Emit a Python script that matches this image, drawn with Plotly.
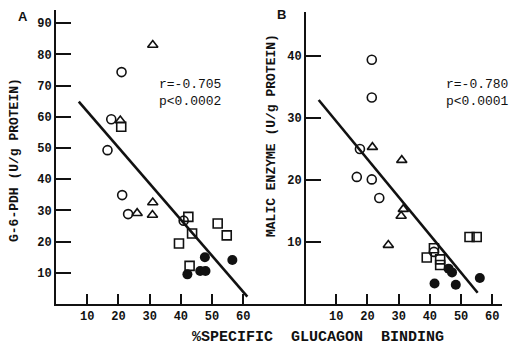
import plotly.graph_objects as go

# ---------------- data ----------------
# Panel A: G-6-PDH (U/g protein) vs % specific glucagon binding
a_circle_x = [21.0, 17.7, 16.5, 21.2, 23.1, 40.9]
a_circle_y = [74.3, 59.2, 49.3, 34.9, 28.8, 26.7]
a_tri_x = [31.0, 20.6, 26.0, 31.0, 30.9]
a_tri_y = [83.0, 58.8, 29.1, 32.5, 28.5]
a_sq_x = [20.9, 42.4, 43.6, 39.4, 51.8, 54.7, 42.8]
a_sq_y = [56.8, 27.9, 22.6, 19.4, 25.8, 22.0, 12.2]
a_fill_x = [42.1, 47.7, 46.2, 47.9, 56.5]
a_fill_y = [9.5, 15.0, 10.6, 10.6, 14.1]
a_fit_x = [7.3, 61.3]
a_fit_slope = -1.157
a_fit_intercept = 73.3
a_stats = ["r=-0.705", "p<0.0002"]

# Panel B: Malic enzyme (U/g protein) vs % specific glucagon binding
b_circle_x = [21.4, 21.4, 17.6, 16.6, 21.4, 23.8, 41.3]
b_circle_y = [39.4, 33.3, 25.0, 20.5, 20.1, 17.1, 8.4]
b_tri_x = [21.6, 31.0, 31.5, 30.8, 26.7]
b_tri_y = [25.3, 23.2, 15.3, 14.2, 9.5]
b_sq_x = [39.0, 41.3, 43.3, 43.3, 52.7, 55.0]
b_sq_y = [7.5, 9.0, 7.2, 6.3, 10.8, 10.8]
b_fill_x = [46.0, 47.1, 41.5, 48.3, 56.0]
b_fill_y = [5.7, 5.1, 3.3, 3.1, 4.2]
b_fit_x = [4.4, 55.3]
b_fit_slope = -0.611
b_fit_intercept = 35.6
b_stats = ["r=-0.780", "p<0.0001"]

x_ticks = [10, 20, 30, 40, 50, 60]
a_y_ticks = [10, 20, 30, 40, 50, 60, 70, 80, 90]
b_y_ticks = [10, 20, 30, 40]

# ---------------- figure ----------------
W, H = 512, 347
FONT = "Liberation Mono"
INK = "#111111"


def px(x):
    return x / W


def py(y):
    return 1 - y / H


fig = go.Figure()


def add_panel(xa, ya, cx, cy, tx, ty, sx, sy, fx, fy, fitx, slope, icpt):
    fig.add_trace(go.Scatter(x=cx, y=cy, mode="markers", xaxis=xa, yaxis=ya,
                             marker=dict(symbol="circle-open", size=9,
                                         color=INK, line=dict(width=1.6))))
    fig.add_trace(go.Scatter(x=tx, y=ty, mode="markers", xaxis=xa, yaxis=ya,
                             marker=dict(symbol="triangle-up-open", size=9,
                                         color=INK, line=dict(width=1.6))))
    fig.add_trace(go.Scatter(x=sx, y=sy, mode="markers", xaxis=xa, yaxis=ya,
                             marker=dict(symbol="square-open", size=9,
                                         color=INK, line=dict(width=1.6))))
    fig.add_trace(go.Scatter(x=fx, y=fy, mode="markers", xaxis=xa, yaxis=ya,
                             marker=dict(symbol="circle", size=10, color=INK,
                                         line=dict(width=0))))
    fity = [icpt + slope * v for v in fitx]
    fig.add_trace(go.Scatter(x=fitx, y=fity, mode="lines", xaxis=xa, yaxis=ya,
                             line=dict(color=INK, width=2.6)))


add_panel("x", "y", a_circle_x, a_circle_y, a_tri_x, a_tri_y, a_sq_x, a_sq_y,
          a_fill_x, a_fill_y, a_fit_x, a_fit_slope, a_fit_intercept)
add_panel("x2", "y2", b_circle_x, b_circle_y, b_tri_x, b_tri_y, b_sq_x, b_sq_y,
          b_fill_x, b_fill_y, b_fit_x, b_fit_slope, b_fit_intercept)

tick_font = dict(family=FONT, size=12, color=INK, weight="bold")
axis_common = dict(showgrid=False, zeroline=False, showline=True, linecolor=INK,
                   linewidth=2, ticks="inside", tickcolor=INK, tickwidth=2,
                   tickfont=tick_font, fixedrange=True)

fig.update_layout(
    width=W, height=H,
    margin=dict(l=0, r=0, t=0, b=0),
    paper_bgcolor="white", plot_bgcolor="rgba(0,0,0,0)",
    showlegend=False,
    xaxis=dict(domain=[px(56), px(262)], range=[0, 66], anchor="y",
               tickvals=x_ticks, ticklen=10, **axis_common),
    yaxis=dict(domain=[py(304), py(10)], range=[0, 94.2], anchor="x",
               tickvals=a_y_ticks, ticklen=15, **axis_common),
    xaxis2=dict(domain=[px(250), px(502)], range=[-17.6, 63.1], anchor="y2",
                tickvals=x_ticks, ticklen=10, **axis_common),
    yaxis2=dict(domain=[py(304), py(12)], range=[0, 47.1], anchor="free",
                position=px(305), tickvals=b_y_ticks, ticklen=15, **axis_common),
)

ann_font = dict(family=FONT, size=13, color=INK, weight="normal")
title_font = dict(family=FONT, size=13, color=INK, weight="bold")
label_font = dict(family="Liberation Sans", size=13, color=INK, weight="bold")

annotations = [
    dict(text="A", x=px(23), y=py(16), font=label_font),
    dict(text="B", x=px(281), y=py(15), font=label_font),
    dict(text="G-6-PDH (U/g PROTEIN)", x=px(14), y=py(160), textangle=-90, font=title_font),
    dict(text="MALIC ENZYME (U/g PROTEIN)", x=px(271), y=py(136), textangle=-90, font=title_font),
    dict(text="%SPECIFIC  GLUCAGON  BINDING", x=px(318), y=py(337),
         font=dict(family=FONT, size=15, color=INK, weight="bold")),
    dict(text=a_stats[0], x=px(157), y=py(85), xanchor="left", font=ann_font),
    dict(text=a_stats[1], x=px(157), y=py(101), xanchor="left", font=ann_font),
    dict(text=b_stats[0], x=px(444), y=py(84), xanchor="left", font=ann_font),
    dict(text=b_stats[1], x=px(444), y=py(101), xanchor="left", font=ann_font),
]
for a in annotations:
    a.setdefault("xanchor", "center")
    a.update(xref="paper", yref="paper", yanchor="middle", showarrow=False)
fig.update_layout(annotations=annotations)

fig.write_html("out.html")
